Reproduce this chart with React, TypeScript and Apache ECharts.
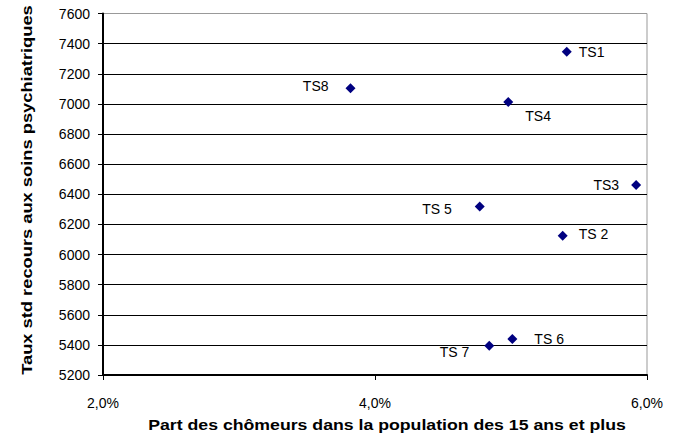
import React, { useEffect, useRef } from "react";
import * as echarts from "echarts";

const names = ["TS1", "TS 2", "TS3", "TS4", "TS 5", "TS 6", "TS 7", "TS8"];
const chomage = [5.41, 5.38, 5.92, 4.98, 4.77, 5.01, 4.84, 3.82];
const taux = [7346, 6125, 6462, 7013, 6318, 5439, 5395, 7103];

const xTitle = "Part des chômeurs dans la population des 15 ans et plus";
const yTitle = "Taux std recours aux soins psychiatriques";

// label layout per point: [position, distance, offsetX, offsetY]
const labelLayout: [string, number, number, number][] = [
  ["right", 7, 0, 0],
  ["right", 11, 0, -2],
  ["left", 12, 0, 0],
  ["right", 12, 0, 14],
  ["left", 23, 0, 2],
  ["right", 17, 0, 0],
  ["left", 15, 0, 6],
  ["left", 17, 0, -2],
];

const FONT = "Liberation Sans, Arial, sans-serif";

export default function App() {
  const ref = useRef<HTMLDivElement>(null);
  useEffect(() => {
    if (!ref.current) return;
    const chart = echarts.init(ref.current, undefined, { renderer: "svg" });
    const splitColors = Array.from({ length: 13 }, (_, i) => (i === 12 ? "#999999" : "#000000"));
    chart.setOption({
      animation: false,
      backgroundColor: "#ffffff",
      grid: {
        left: 103,
        right: 33,
        top: 13.5,
        bottom: 64,
        show: true,
        borderColor: "#999999",
        borderWidth: 1,
        backgroundColor: "transparent",
      },
      xAxis: {
        type: "value",
        min: 2,
        max: 6,
        interval: 2,
        axisLine: { show: true, onZero: false, lineStyle: { color: "#000", width: 2 } },
        axisTick: { show: true, inside: false, length: 5, lineStyle: { color: "#000" } },
        splitLine: { show: false },
        axisLabel: {
          margin: 21,
          color: "#000",
          fontFamily: FONT,
          fontSize: 14,
          formatter: (v: number) => v.toFixed(1).replace(".", ",") + "%",
        },
      },
      yAxis: {
        type: "value",
        min: 5200,
        max: 7600,
        interval: 200,
        axisLine: { show: true, onZero: false, lineStyle: { color: "#000", width: 2 } },
        axisTick: { show: true, inside: false, length: 5, lineStyle: { color: "#000" } },
        splitLine: { show: true, lineStyle: { color: splitColors, width: 1 } },
        axisLabel: {
          margin: 13,
          color: "#000",
          fontFamily: FONT,
          fontSize: 14,
          formatter: (v: number) => String(v),
        },
      },
      graphic: [
        {
          type: "text",
          x: 387,
          y: 425,
          scaleX: 1.18,
          style: {
            text: xTitle,
            font: `bold 15px ${FONT}`,
            fill: "#000",
            textAlign: "center",
            textVerticalAlign: "middle",
          },
        },
        {
          type: "text",
          x: 27,
          y: 190,
          rotation: Math.PI / 2,
          scaleX: 1.22,
          style: {
            text: yTitle,
            font: `bold 15px ${FONT}`,
            fill: "#000",
            textAlign: "center",
            textVerticalAlign: "middle",
          },
        },
      ],
      series: [
        {
          type: "scatter",
          symbol: "diamond",
          symbolSize: 10,
          itemStyle: { color: "#000080", opacity: 1 },
          data: names.map((n, i) => ({
            name: n,
            value: [chomage[i], taux[i]],
            label: {
              show: true,
              position: labelLayout[i][0],
              distance: labelLayout[i][1],
              offset: [labelLayout[i][2], labelLayout[i][3]],
              formatter: n,
              color: "#000",
              fontFamily: FONT,
              fontSize: 14,
            },
          })),
        },
      ],
    });
    return () => chart.dispose();
  }, []);
  return (
    <div
      ref={ref}
      style={{ position: "fixed", left: 0, top: 0, width: 680, height: 439 }}
    />
  );
}
